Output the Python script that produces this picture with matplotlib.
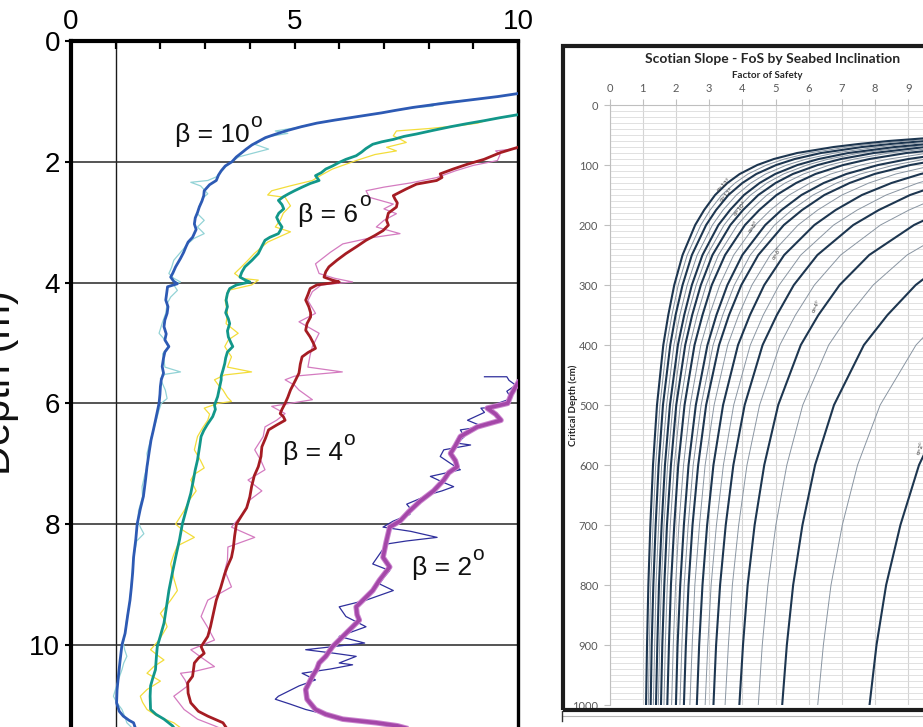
import numpy as np
import matplotlib
matplotlib.use("Agg")
import matplotlib.pyplot as plt
from matplotlib.patches import Rectangle
from matplotlib.lines import Line2D

W, H = 923, 727
NARROW = ['Liberation Sans Narrow', 'Liberation Sans', 'DejaVu Sans']
EXCEL = ['Lato', 'Open Sans', 'DejaVu Sans']

# ---------------- left panel: FoS (x) vs depth in m (y) ----------------
# (depth, FoS) pairs; "raw" = thin noisy trace, "avg" = thick trace
beta10_raw = [(0.97, 9.0), (1.01, 8.4), (1.05, 8.05), (1.08, 8.1), (1.10, 7.7), (1.15, 7.25),
              (1.19, 6.95), (1.27, 6.25), (1.36, 5.5), (1.44, 5.0), (1.49, 4.57), (1.53, 4.85),
              (1.58, 4.45), (1.65, 4.25), (1.71, 4.11), (1.79, 4.42), (1.85, 4.11), (1.92, 3.75),
              (2.0, 3.6), (2.07, 3.48), (2.15, 3.38), (2.25, 3.25), (2.31, 3.06), (2.34, 2.68),
              (2.40, 2.9), (2.53, 3.06), (2.60, 2.95), (2.75, 2.86), (2.86, 2.83), (2.97, 2.98),
              (3.08, 2.83), (3.19, 2.98), (3.27, 2.75), (3.36, 2.61), (3.50, 2.45), (3.63, 2.30),
              (3.75, 2.25), (3.85, 2.19), (3.93, 2.3), (3.99, 2.45), (4.04, 2.3), (4.13, 2.38),
              (4.24, 2.23), (4.35, 2.15), (4.51, 2.12), (4.65, 2.05), (4.84, 1.97), (4.95, 2.1),
              (5.06, 2.19), (5.18, 2.05), (5.28, 2.08), (5.40, 2.1), (5.48, 2.45), (5.52, 2.1),
              (5.59, 2.0), (5.68, 2.05), (5.78, 2.11), (5.92, 2.15), (6.0, 2.02), (6.11, 1.97),
              (6.22, 1.93), (6.33, 1.89), (6.55, 1.8), (6.83, 1.7), (7.0, 1.72), (7.16, 1.66),
              (7.38, 1.59), (7.55, 1.6), (7.78, 1.51), (7.95, 1.5), (8.05, 1.55), (8.16, 1.63),
              (8.28, 1.47), (8.55, 1.40), (8.88, 1.36), (9.26, 1.32), (9.6, 1.24), (9.85, 1.2),
              (9.97, 1.17), (10.08, 1.2), (10.19, 1.25), (10.30, 1.18), (10.41, 1.14), (10.6, 1.05),
              (10.85, 0.95), (10.95, 1.02), (11.07, 1.14), (11.18, 1.2), (11.29, 1.25), (11.40, 1.40)]
beta10_avg = [(0.87, 10.0), (0.92, 9.55), (0.97, 9.0), (1.02, 8.45), (1.06, 8.05), (1.10, 7.65),
              (1.15, 7.25), (1.19, 6.95), (1.23, 6.6), (1.27, 6.25), (1.31, 5.9), (1.36, 5.5),
              (1.42, 5.15), (1.49, 4.8), (1.55, 4.55), (1.60, 4.35), (1.66, 4.2), (1.72, 4.05),
              (1.79, 3.92), (1.85, 3.82), (1.92, 3.7), (2.00, 3.6), (2.07, 3.45), (2.15, 3.36),
              (2.22, 3.3), (2.31, 3.25), (2.38, 3.1), (2.48, 2.98), (2.56, 2.97), (2.65, 2.93),
              (2.75, 2.87), (2.84, 2.83), (2.93, 2.78), (3.03, 2.76), (3.12, 2.8), (3.25, 2.72),
              (3.33, 2.62), (3.41, 2.57), (3.50, 2.52), (3.60, 2.45), (3.74, 2.34), (3.84, 2.28),
              (3.91, 2.23), (3.98, 2.3), (4.02, 2.38), (4.07, 2.16), (4.18, 2.14), (4.29, 2.12),
              (4.40, 2.17), (4.51, 2.15), (4.62, 2.1), (4.73, 2.08), (4.85, 2.13), (4.95, 2.1),
              (5.06, 2.19), (5.15, 2.1), (5.25, 2.07), (5.39, 2.04), (5.50, 2.07), (5.61, 2.02),
              (5.72, 2.0), (5.85, 1.99), (6.00, 1.97), (6.14, 1.93), (6.28, 1.89), (6.45, 1.84),
              (6.61, 1.79), (6.80, 1.75), (7.05, 1.7), (7.25, 1.67), (7.54, 1.62), (7.75, 1.55),
              (8.00, 1.48), (8.25, 1.45), (8.55, 1.4), (8.80, 1.38), (9.05, 1.35), (9.26, 1.32),
              (9.50, 1.27), (9.81, 1.21), (10.00, 1.14), (10.25, 1.1), (10.52, 1.06), (10.75, 1.03),
              (10.96, 1.02), (11.10, 1.08), (11.18, 1.17), (11.25, 1.3), (11.29, 1.4), (11.40, 1.45)]

beta6_raw = [(1.25, 9.75), (1.30, 9.35), (1.36, 9.1), (1.40, 8.7), (1.45, 8.0), (1.49, 7.28),
             (1.57, 7.21), (1.62, 7.35), (1.68, 7.5), (1.76, 7.06), (1.82, 7.28), (1.88, 6.8),
             (1.98, 6.38), (2.12, 5.85), (2.22, 5.6), (2.31, 5.40), (2.40, 4.9), (2.48, 4.49),
             (2.55, 4.4), (2.59, 4.79), (2.66, 4.85), (2.73, 4.91), (2.85, 4.75), (2.97, 4.68),
             (3.08, 4.57), (3.16, 4.91), (3.25, 4.64), (3.33, 4.4), (3.41, 4.27), (3.52, 4.1),
             (3.63, 3.96), (3.75, 3.8), (3.85, 3.66), (3.93, 3.81), (3.96, 4.19), (4.04, 4.04),
             (4.13, 3.51), (4.30, 3.45), (4.50, 3.5), (4.68, 3.47), (4.84, 3.74), (4.95, 3.52),
             (5.06, 3.44), (5.23, 3.59), (5.40, 3.5), (5.48, 4.04), (5.53, 3.44), (5.61, 3.21),
             (5.70, 3.3), (5.78, 3.40), (5.90, 3.5), (5.97, 3.59), (6.0, 3.29), (6.08, 2.98),
             (6.18, 3.1), (6.28, 3.06), (6.40, 2.95), (6.55, 2.83), (6.77, 2.76), (6.95, 2.9),
             (7.07, 2.98), (7.18, 2.75), (7.27, 2.68), (7.45, 2.8), (7.60, 2.65), (7.78, 2.53),
             (8.0, 2.34), (8.10, 2.5), (8.22, 2.76), (8.36, 2.38), (8.50, 2.3), (8.66, 2.23),
             (8.90, 2.3), (9.10, 2.38), (9.26, 2.23), (9.48, 2.0), (9.60, 2.1), (9.70, 2.15),
             (9.92, 1.97), (10.08, 1.78), (10.18, 1.95), (10.25, 2.08), (10.36, 1.85), (10.47, 1.70),
             (10.60, 2.0), (10.74, 1.70), (10.85, 1.55), (10.95, 1.6), (11.07, 1.70), (11.18, 1.93),
             (11.29, 2.30), (11.40, 2.5)]
beta6_avg = [(1.22, 10.0), (1.27, 9.6), (1.32, 9.24), (1.37, 8.85), (1.42, 8.49), (1.48, 8.1),
             (1.54, 7.73), (1.58, 7.45), (1.63, 7.21), (1.67, 6.95), (1.71, 6.75), (1.78, 6.6),
             (1.84, 6.5), (1.90, 6.38), (1.96, 6.15), (2.01, 6.0), (2.07, 5.85), (2.12, 5.70),
             (2.18, 5.6), (2.23, 5.47), (2.28, 5.52), (2.31, 5.55), (2.36, 5.35), (2.42, 5.17),
             (2.48, 5.0), (2.53, 4.87), (2.58, 4.75), (2.64, 4.64), (2.71, 4.72), (2.78, 4.76),
             (2.85, 4.65), (2.92, 4.60), (3.00, 4.65), (3.08, 4.72), (3.14, 4.68), (3.19, 4.64),
             (3.25, 4.45), (3.30, 4.34), (3.40, 4.27), (3.52, 4.19), (3.63, 4.05), (3.74, 3.89),
             (3.83, 3.82), (3.91, 3.78), (3.96, 3.9), (3.99, 4.0), (4.04, 3.7), (4.10, 3.55),
             (4.18, 3.5), (4.29, 3.47), (4.40, 3.5), (4.50, 3.46), (4.60, 3.52), (4.68, 3.55),
             (4.80, 3.5), (4.90, 3.52), (5.00, 3.58), (5.06, 3.62), (5.15, 3.5), (5.25, 3.46),
             (5.34, 3.44), (5.45, 3.4), (5.55, 3.36), (5.61, 3.36), (5.75, 3.32), (5.89, 3.28),
             (6.03, 3.21), (6.10, 3.23), (6.22, 3.17), (6.35, 3.05), (6.45, 2.97), (6.55, 2.91),
             (6.70, 2.88), (6.94, 2.83), (7.10, 2.78), (7.30, 2.73), (7.49, 2.68), (7.70, 2.6),
             (8.00, 2.49), (8.25, 2.43), (8.55, 2.34), (8.80, 2.27), (9.10, 2.19), (9.35, 2.14),
             (9.64, 2.08), (9.85, 2.0), (10.03, 1.93), (10.20, 1.91), (10.41, 1.89), (10.55, 1.83),
             (10.68, 1.78), (10.85, 1.77), (11.07, 1.78), (11.15, 1.9), (11.23, 2.08), (11.34, 2.27),
             (11.40, 2.33)]

beta4_raw = [(1.78, 10.0), (1.82, 9.5), (1.88, 9.6), (1.98, 9.54), (2.06, 9.0), (2.15, 8.6),
             (2.26, 8.19), (2.35, 7.6), (2.42, 7.0), (2.48, 6.60), (2.59, 6.68), (2.70, 7.21),
             (2.78, 7.0), (2.86, 7.28), (2.97, 7.0), (3.08, 6.83), (3.19, 7.36), (3.26, 6.7),
             (3.36, 6.08), (3.50, 5.8), (3.69, 5.47), (3.85, 5.55), (3.93, 5.9), (3.99, 6.30),
             (4.04, 5.6), (4.15, 5.4), (4.30, 5.3), (4.51, 5.47), (4.65, 5.10), (4.84, 5.55),
             (5.06, 5.40), (5.20, 5.35), (5.40, 5.3), (5.48, 6.07), (5.55, 5.0), (5.61, 4.79),
             (5.70, 5.0), (5.78, 5.10), (5.94, 5.40), (6.0, 4.9), (6.05, 4.49), (6.17, 4.79),
             (6.28, 4.6), (6.39, 4.34), (6.55, 4.3), (6.77, 4.11), (6.95, 4.25), (7.10, 4.34),
             (7.27, 3.96), (7.45, 4.27), (7.60, 4.0), (7.78, 3.90), (8.05, 3.59), (8.22, 4.11),
             (8.38, 3.51), (8.60, 3.5), (8.77, 3.44), (9.04, 3.59), (9.26, 3.06), (9.53, 2.91),
             (9.70, 3.05), (9.92, 3.21), (10.08, 2.68), (10.20, 2.9), (10.36, 3.21), (10.44, 2.76),
             (10.47, 2.45), (10.58, 2.55), (10.68, 2.61), (10.85, 2.30), (11.07, 2.53), (11.23, 2.83),
             (11.34, 3.21), (11.40, 3.4)]
beta4_avg = [(1.76, 10.0), (1.85, 9.6), (1.96, 9.24), (2.04, 8.87), (2.12, 8.55), (2.20, 8.26),
             (2.26, 8.3), (2.31, 8.18), (2.37, 7.73), (2.45, 7.5), (2.56, 7.21), (2.62, 7.25),
             (2.68, 7.3), (2.75, 7.28), (2.85, 7.1), (2.97, 7.06), (3.05, 7.1), (3.14, 6.98),
             (3.22, 6.8), (3.30, 6.60), (3.40, 6.4), (3.52, 6.15), (3.63, 5.95), (3.74, 5.77),
             (3.82, 5.7), (3.91, 5.66), (3.96, 5.85), (3.99, 6.0), (4.04, 5.5), (4.10, 5.35),
             (4.20, 5.3), (4.29, 5.25), (4.40, 5.32), (4.50, 5.36), (4.57, 5.36), (4.68, 5.28),
             (4.79, 5.25), (4.90, 5.35), (5.00, 5.42), (5.09, 5.47), (5.16, 5.3), (5.23, 5.17),
             (5.35, 5.13), (5.50, 5.10), (5.62, 5.02), (5.78, 4.91), (5.90, 4.85), (6.00, 4.79),
             (6.10, 4.72), (6.17, 4.68), (6.22, 4.75), (6.28, 4.79), (6.36, 4.6), (6.44, 4.42),
             (6.58, 4.35), (6.72, 4.27), (6.88, 4.25), (7.05, 4.19), (7.20, 4.1), (7.38, 4.04),
             (7.55, 4.0), (7.73, 3.93), (7.88, 3.8), (8.00, 3.70), (8.20, 3.66), (8.40, 3.63),
             (8.55, 3.59), (8.70, 3.5), (8.82, 3.44), (9.05, 3.35), (9.26, 3.25), (9.53, 3.17),
             (9.70, 3.12), (9.86, 3.06), (10.03, 2.91), (10.14, 2.98), (10.22, 2.85), (10.30, 2.76),
             (10.52, 2.72), (10.63, 2.61), (10.80, 2.62), (10.96, 2.68), (11.10, 2.85), (11.18, 3.06),
             (11.29, 3.40), (11.40, 3.5)]

beta2_raw = [(5.56, 9.25), (5.56, 9.75), (5.62, 9.8), (5.70, 9.95), (5.80, 9.75), (5.92, 9.85),
             (6.0, 9.55), (6.06, 9.54), (6.08, 9.17), (6.15, 9.25), (6.28, 8.87), (6.35, 9.1),
             (6.39, 9.17), (6.44, 8.71), (6.55, 8.8), (6.66, 8.64), (6.69, 8.94), (6.77, 8.34),
             (6.88, 8.26), (7.0, 8.5), (7.10, 8.71), (7.21, 8.04), (7.30, 8.3), (7.38, 8.56),
             (7.45, 8.3), (7.49, 8.11), (7.58, 7.8), (7.67, 7.51), (7.75, 7.6), (7.84, 7.58),
             (7.95, 7.21), (8.05, 6.98), (8.12, 7.6), (8.22, 8.19), (8.28, 7.5), (8.33, 7.06),
             (8.50, 6.9), (8.66, 6.75), (8.77, 7.13), (8.88, 7.0), (8.99, 6.90), (9.10, 7.21),
             (9.26, 6.60), (9.37, 6.0), (9.53, 6.15), (9.70, 6.60), (9.86, 6.0), (9.97, 6.57),
             (10.03, 5.85), (10.08, 5.25), (10.14, 5.9), (10.19, 6.38), (10.30, 6.0), (10.33, 6.30),
             (10.40, 5.8), (10.47, 5.17), (10.58, 5.47), (10.68, 5.10), (10.85, 4.64), (10.90, 4.57),
             (10.98, 4.9), (11.07, 5.25), (11.18, 5.85), (11.27, 6.6), (11.34, 7.21), (11.40, 7.6)]
beta2_avg = [(5.66, 10.0), (5.72, 9.95), (5.85, 9.85), (6.0, 9.77), (6.08, 9.31), (6.18, 9.5),
             (6.28, 9.62), (6.39, 9.09), (6.47, 8.9), (6.55, 8.71), (6.70, 8.6), (6.83, 8.49),
             (6.95, 8.6), (7.05, 8.64), (7.15, 8.45), (7.27, 8.34), (7.45, 8.11), (7.62, 7.81),
             (7.80, 7.55), (7.95, 7.36), (8.05, 7.13), (8.30, 7.05), (8.55, 6.98), (8.71, 7.13),
             (8.93, 6.90), (9.10, 6.75), (9.21, 6.60), (9.37, 6.38), (9.50, 6.4), (9.59, 6.45),
             (9.70, 6.3), (9.81, 6.15), (10.03, 5.85), (10.19, 5.70), (10.30, 5.55), (10.40, 5.5),
             (10.52, 5.40), (10.74, 5.25), (10.90, 5.28), (11.07, 5.47), (11.15, 5.7), (11.23, 6.08),
             (11.29, 6.83), (11.34, 7.3), (11.40, 7.6)]

beta_names = ['β = 10', 'β = 6', 'β = 4', 'β = 2']
depth_ticks = [0, 2, 4, 6, 8, 10]

# ---------------- right panel: critical depth (cm) vs FoS ----------------
rhs_depth = [50, 55, 60, 65, 70, 80, 90, 100, 115, 130, 150, 175, 200, 250, 300, 350, 400,
             500, 600, 700, 800, 900, 1000]
# each list holds FoS for the deepest len(list) depths of rhs_depth (right-most curve first)
rhs_fos = [
    [10.18, 9.32, 8.76, 8.33, 8.04, 7.83],
    [10.09, 9.23, 8.15, 7.47, 7.01, 6.67, 6.44, 6.27],
    [10.40, 9.22, 8.37, 7.66, 6.76, 6.19, 5.81, 5.53, 5.34, 5.20],
    [10.51, 8.96, 7.94, 7.21, 6.60, 5.82, 5.34, 5.01, 4.77, 4.60, 4.48],
    [10.13, 9.17, 7.82, 6.93, 6.29, 5.76, 5.08, 4.66, 4.37, 4.16, 4.02, 3.91],
    [10.06, 9.02, 8.16, 6.96, 6.17, 5.60, 5.13, 4.52, 4.14, 3.89, 3.70, 3.58, 3.48],
    [10.10, 9.05, 8.11, 7.34, 6.26, 5.55, 5.04, 4.61, 4.07, 3.73, 3.50, 3.33, 3.21, 3.13],
    [10.26, 9.29, 8.33, 7.46, 6.75, 5.76, 5.11, 4.63, 4.24, 3.74, 3.43, 3.22, 3.06, 2.96, 2.88],
    [10.64, 9.37, 8.49, 7.60, 6.81, 6.17, 5.26, 4.66, 4.23, 3.87, 3.42, 3.13, 2.94, 2.80, 2.70, 2.63],
    [9.79, 8.62, 7.81, 7.0, 6.27, 5.68, 4.84, 4.29, 3.89, 3.56, 3.15, 2.88, 2.71, 2.57, 2.49, 2.42],
    [10.08, 9.06, 7.98, 7.23, 6.47, 5.80, 5.25, 4.48, 3.97, 3.60, 3.30, 2.91, 2.67, 2.50, 2.38, 2.30, 2.24],
    [9.54, 8.58, 7.55, 6.84, 6.13, 5.49, 4.97, 4.24, 3.76, 3.41, 3.12, 2.76, 2.52, 2.37, 2.25, 2.18, 2.12],
    [10.27, 9.0, 8.09, 7.13, 6.45, 5.78, 5.18, 4.69, 4.0, 3.55, 3.22, 2.95, 2.60, 2.38, 2.24, 2.13, 2.05, 2.0],
    [9.61, 8.42, 7.57, 6.66, 6.04, 5.41, 4.85, 4.39, 3.74, 3.32, 3.01, 2.75, 2.43, 2.23, 2.09, 1.99, 1.92, 1.87],
    [10.68, 8.94, 7.83, 7.04, 6.20, 5.62, 5.03, 4.51, 4.08, 3.48, 3.08, 2.80, 2.56, 2.26, 2.07, 1.95, 1.85, 1.79, 1.74],
    [10.06, 8.42, 7.38, 6.63, 5.84, 5.29, 4.74, 4.25, 3.85, 3.28, 2.91, 2.64, 2.42, 2.13, 1.95, 1.83, 1.74, 1.68, 1.64],
    [9.51, 7.96, 6.97, 6.27, 5.52, 5.0, 4.48, 4.02, 3.64, 3.10, 2.75, 2.49, 2.28, 2.01, 1.85, 1.73, 1.65, 1.59, 1.55],
    [10.02, 9.02, 7.55, 6.61, 5.95, 5.24, 4.74, 4.25, 3.81, 3.45, 2.94, 2.61, 2.36, 2.16, 1.91, 1.75, 1.64, 1.56, 1.51, 1.47],
    [9.55, 8.59, 7.19, 6.30, 5.66, 4.99, 4.52, 4.05, 3.63, 3.28, 2.80, 2.48, 2.25, 2.06, 1.82, 1.67, 1.57, 1.49, 1.44, 1.40],
    [10.08, 9.0, 8.1, 6.78, 5.94, 5.34, 4.70, 4.26, 3.82, 3.42, 3.10, 2.64, 2.34, 2.12, 1.94, 1.72, 1.57, 1.48, 1.40, 1.36, 1.32],
    [10.82, 9.47, 8.45, 7.61, 6.37, 5.58, 5.02, 4.42, 4.0, 3.58, 3.21, 2.91, 2.48, 2.20, 1.99, 1.83, 1.61, 1.48, 1.39, 1.32, 1.27, 1.24],
    [10.21, 8.94, 7.98, 7.18, 6.01, 5.27, 4.73, 4.17, 3.78, 3.38, 3.03, 2.75, 2.34, 2.07, 1.88, 1.72, 1.52, 1.39, 1.31, 1.24, 1.20, 1.17],
    [11.2, 9.6, 8.4, 7.5, 6.75, 5.65, 4.95, 4.45, 3.92, 3.55, 3.18, 2.85, 2.58, 2.20, 1.95, 1.77, 1.62, 1.43, 1.31, 1.23, 1.17, 1.13, 1.10],
]
rhs_labels = ['α=2°', 'α=4°', 'α=6°', 'α=8°', 'α=10°', 'α=12°', 'α=13°']
rhs_xticks = list(range(0, 10))
rhs_yticks = list(range(0, 1001, 100))

plt.rcParams['font.family'] = NARROW
fig = plt.figure(figsize=(W / 100, H / 100), dpi=100)

# ---- left axes ----
ax = fig.add_axes([71 / W, 0, (518 - 71) / W, 1 - 41 / H])
ax.set_xlim(0, 10)
ax.set_ylim(11.36, 0)

ax.set_yticks(depth_ticks)
ax.yaxis.grid(True, color='#262626', lw=1.1, zorder=1)
ax.axvline(1, color='#1a1a1a', lw=1.0, zorder=1)

series = [(beta10_raw, beta10_avg, '#93d3d6', '#2d5ab4', 2.0),
          (beta6_raw, beta6_avg, '#f3dd3a', '#12978a', 2.0),
          (beta4_raw, beta4_avg, '#d47bc0', '#a51c23', 2.0),
          (beta2_raw, beta2_avg, '#2f2f9c', '#a447a8', 2.6)]
for raw, avg, c_raw, c_avg, lw_avg in series:
    d, f = np.array(raw).T
    ax.plot(f, d, color=c_raw, lw=0.9, zorder=2)
for raw, avg, c_raw, c_avg, lw_avg in series:
    d, f = np.array(avg).T
    if lw_avg > 2.2:
        # the beta = 2 trace has a light magenta rim
        ax.plot(f, d, color='#cc86cf', lw=lw_avg + 1.4, zorder=3)
    ax.plot(f, d, color=c_avg, lw=lw_avg, zorder=3)

ax.xaxis.tick_top()
ax.set_xticks([0, 5, 10])
ax.set_xticklabels(['0', '5', '10'])
ax.set_xticks([1, 2, 3, 4, 6, 7, 8, 9], minor=True)
ax.tick_params(axis='x', which='both', direction='in', length=6, width=1.6,
               labelsize=20, pad=4)
ax.set_yticklabels([str(t) for t in depth_ticks])
ax.tick_params(axis='y', direction='out', length=4, width=1.5, labelsize=20, pad=4)
ax.spines['bottom'].set_visible(False)
ax.spines['top'].set_linewidth(3)
ax.spines['left'].set_linewidth(3)
ax.spines['right'].set_linewidth(2.4)

# beta labels (x, baseline depth); the raised "o" follows the end of each label
label_pos = [(2.33, 1.67), (5.08, 2.99), (4.74, 6.94), (7.62, 8.84)]
for name, (x, y) in zip(beta_names, label_pos):
    t = ax.text(x, y, name, fontsize=19, ha='left', va='baseline', color='#111111', zorder=5)
    ax.annotate('o', xy=(1.0, 1.0), xycoords=t, xytext=(0.5, 8), textcoords='offset points',
                ha='left', va='top', fontsize=15, color='#111111', zorder=5)

fig.text(19 / W, 1 - 383 / H, 'Depth (m)', rotation=90, ha='right', va='center',
         fontsize=30, color='#111111')

# ---- right axes (embedded Excel-style chart) ----
ax2 = fig.add_axes([609.5 / W, 1 - 705 / H, (923 - 609.5) / W, 600 / H])
ax2.set_xlim(0, 9.44)
ax2.set_ylim(1000, 0)
ax2.set_xticks(rhs_xticks)
ax2.set_yticks(rhs_yticks)
ax2.set_yticks(range(0, 1001, 10), minor=True)
ax2.grid(which='major', axis='x', color='#d4d4d4', lw=0.8)
ax2.grid(which='both', axis='y', color='#dcdcdc', lw=0.6)
ax2.set_axisbelow(True)
ax2.xaxis.tick_top()
ax2.tick_params(which='major', length=4, color='#bfbfbf', labelsize=8,
                labelcolor='#595959', labelfontfamily=EXCEL, pad=4)
ax2.tick_params(which='minor', length=0)
for side in ['right', 'bottom']:
    ax2.spines[side].set_visible(False)
for side in ['top', 'left']:
    ax2.spines[side].set_color('#bfbfbf')
    ax2.spines[side].set_linewidth(0.8)

for i, vals in enumerate(rhs_fos):
    thick = (i % 2 == 0)
    ax2.plot(vals, rhs_depth[-len(vals):], color='#1d3650' if thick else '#8995a2',
             lw=1.5 if thick else 0.7, zorder=3)

label_at = [(9.38, 572, 70), (6.24, 336, 64), (5.04, 247, 58), (4.33, 203, 54),
            (3.93, 172, 50), (3.53, 150, 46), (3.45, 134, 44)]
for txt, (x, y, r) in zip(rhs_labels, label_at):
    ax2.text(x, y, txt, fontsize=4.5, color='#3a3a3a', rotation=r, rotation_mode='anchor',
             ha='center', va='center', family=EXCEL, zorder=4, clip_on=True)

fig.text(773 / W, 1 - 59 / H, 'Scotian Slope - FoS by Seabed Inclination', ha='center',
         va='center', fontsize=10, fontweight='bold', color='#262626', family=EXCEL)
fig.text(767 / W, 1 - 76 / H, 'Factor of Safety', ha='center', va='center', fontsize=7,
         fontweight='bold', color='#262626', family=EXCEL)
fig.text(573 / W, 1 - 405 / H, 'Critical Depth (cm)', rotation=90, ha='center', va='center',
         fontsize=7, fontweight='bold', color='#262626', family=EXCEL)

# picture frame round the embedded chart
fig.add_artist(Rectangle((563 / W, 1 - 710 / H), (940 - 563) / W, (710 - 45.5) / H,
                         transform=fig.transFigure, fill=False, lw=3, ec='#1c1c1c', zorder=10))
fig.add_artist(Line2D([562 / W, 1], [1 - 716 / H, 1 - 716 / H], transform=fig.transFigure,
                      color='#b5b5b5', lw=0.8, zorder=10))
fig.add_artist(Line2D([562 / W, 562 / W], [1 - 711 / H, 1 - 721 / H], transform=fig.transFigure,
                      color='#333333', lw=1.0, zorder=10))

fig.savefig('out.png', dpi=100)
